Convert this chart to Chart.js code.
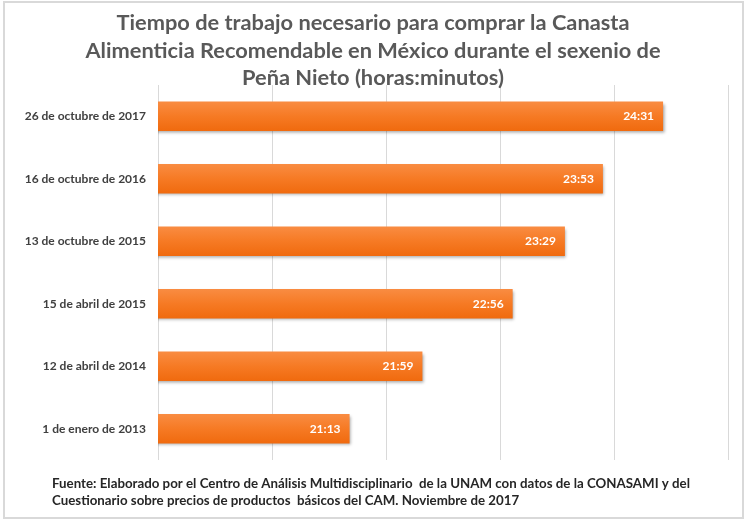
<!DOCTYPE html>
<html>
<head>
<meta charset="utf-8">
<script src="https://cdn.jsdelivr.net/npm/chart.js@4.4.1/dist/chart.umd.min.js"></script>
<style>
  html, body { margin: 0; padding: 0; background: #fff; }
  #wrap { width: 746px; height: 522px; }
</style>
</head>
<body>
<div id="wrap"><canvas id="myChart" width="746" height="522"></canvas></div>
<script>
// fechas (de la más antigua a la más reciente)
const fechas = [
    '1 de enero de 2013',
    '12 de abril de 2014',
    '15 de abril de 2015',
    '13 de octubre de 2015',
    '16 de octubre de 2016',
    '26 de octubre de 2017'
];
// tiempo de trabajo en minutos (21:13, 21:59, 22:56, 23:29, 23:53, 24:31)
const minutos = [1273, 1319, 1376, 1409, 1433, 1471];

const titulo = [
    'Tiempo de trabajo necesario para comprar la Canasta',
    'Alimenticia Recomendable en México durante el sexenio de',
    'Peña Nieto (horas:minutos)'
];
const fuente = [
    'Fuente: Elaborado por el Centro de Análisis Multidisciplinario  de la UNAM con datos de la CONASAMI y del',
    'Cuestionario sobre precios de productos  básicos del CAM. Noviembre de 2017'
];

// eje en minutos: 19:12 a 25:12, cada 1:12 (como Excel en fracciones de día)
const ejeMin = 1152;
const ejeMax = 1512;
const ejePaso = 72;

const FONT = "Lato, 'Open Sans', 'DejaVu Sans', sans-serif";

function hhmm(m) {
    const h = Math.floor(m / 60);
    const r = m % 60;
    return h + ':' + String(r).padStart(2, '0');
}

// marco, título y fuente
const marco = {
    id: 'marco',
    beforeDraw(chart) {
        const ctx = chart.ctx;
        ctx.save();
        ctx.fillStyle = '#fff';
        ctx.fillRect(0, 0, chart.width, chart.height);
        ctx.strokeStyle = '#d9d9d9';
        ctx.lineWidth = 2;
        ctx.strokeRect(4, 2, 739, 516);
        ctx.restore();
    },
    afterDraw(chart) {
        const ctx = chart.ctx;
        ctx.save();
        ctx.fillStyle = '#595959';
        ctx.font = 'bold 21.8px ' + FONT;
        ctx.textAlign = 'center';
        ctx.textBaseline = 'middle';
        titulo.forEach((t, i) => ctx.fillText(t, 373, 23 + i * 27.5));
        ctx.fillStyle = '#262626';
        ctx.font = 'bold 13.3px ' + FONT;
        ctx.textAlign = 'left';
        fuente.forEach((t, i) => ctx.fillText(t, 52, 484 + i * 17));
        ctx.restore();
    }
};

// degradado y sombra de las barras, y etiquetas de valor
const barras = {
    id: 'barras',
    beforeDatasetsDraw(chart) {
        const meta = chart.getDatasetMeta(0);
        meta.data.forEach((bar) => {
            const top = bar.y - bar.height / 2;
            const g = chart.ctx.createLinearGradient(0, top, 0, top + bar.height);
            g.addColorStop(0, '#f98c42');
            g.addColorStop(0.5, '#f67a24');
            g.addColorStop(1, '#f06a0e');
            bar.options.backgroundColor = g;
        });
        const ctx = chart.ctx;
        ctx.save();
        ctx.shadowColor = 'rgba(0,0,0,0.35)';
        ctx.shadowOffsetX = 1.5;
        ctx.shadowOffsetY = 2;
        ctx.shadowBlur = 3;
    },
    afterDatasetsDraw(chart) {
        const ctx = chart.ctx;
        ctx.restore();
        const meta = chart.getDatasetMeta(0);
        ctx.save();
        ctx.fillStyle = '#ffffff';
        ctx.font = 'bold 12px ' + FONT;
        ctx.textAlign = 'right';
        ctx.textBaseline = 'middle';
        meta.data.forEach((bar, i) => {
            ctx.fillText(hhmm(minutos[i]), bar.x - 9, bar.y);
        });
        ctx.restore();
    }
};

const ctx = document.getElementById('myChart');
const chart = new Chart(ctx, {
    type: 'bar',
    data: {
        labels: fechas,
        datasets: [{
            data: minutos,
            backgroundColor: () => '#f47a22',
            borderWidth: 0,
            barPercentage: 0.47,
            categoryPercentage: 1
        }]
    },
    options: {
        indexAxis: 'y',
        responsive: false,
        animation: false,
        layout: {
            padding: { top: 85, bottom: 62, left: 0, right: 18 }
        },
        plugins: {
            legend: { display: false },
            tooltip: { enabled: false }
        },
        scales: {
            x: {
                min: ejeMin,
                max: ejeMax,
                ticks: { display: false, stepSize: ejePaso },
                grid: { color: '#d9d9d9', lineWidth: 1, drawTicks: false },
                border: { display: false }
            },
            y: {
                reverse: true,
                grid: { display: false, drawTicks: false },
                border: { display: false },
                ticks: {
                    color: '#404040',
                    padding: 12,
                    font: { family: FONT, size: 12, weight: 'bold' }
                },
                afterFit: (scale) => { scale.width = 158; }
            }
        }
    },
    plugins: [marco, barras]
});
</script>
</body>
</html>
